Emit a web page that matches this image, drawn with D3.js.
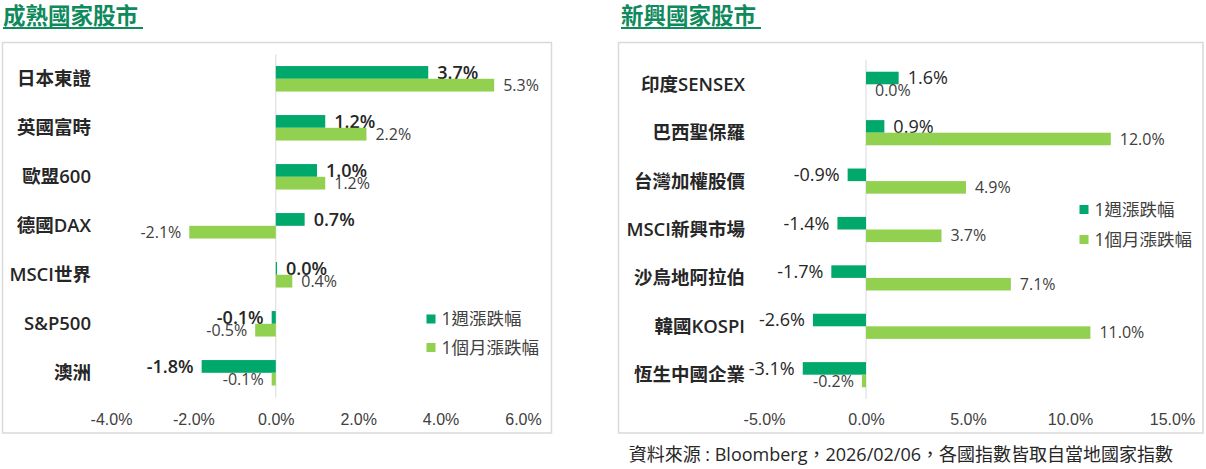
<!DOCTYPE html>
<html>
<head>
<meta charset="utf-8">
<script src="https://cdn.jsdelivr.net/npm/d3@7"></script>
<style>
  body { margin: 0; background: #fff; }
  svg { display: block; font-family: "Open Sans", "Noto Sans CJK TC", sans-serif; }
</style>
</head>
<body>
<svg id="root" width="1206" height="469"></svg>
<script>
// series names (legend)
const seriesNames = ["1週漲跌幅", "1個月漲跌幅"];

// 成熟國家股市
const matureNames = ["日本東證", "英國富時", "歐盟600", "德國DAX", "MSCI世界", "S&P500", "澳洲"];
const matureWeek = [3.7, 1.2, 1.0, 0.7, 0.03, -0.1, -1.8];
const matureMonth = [5.3, 2.2, 1.2, -2.1, 0.4, -0.5, -0.1];
const matureTicks = [-4, -2, 0, 2, 4, 6];

// 新興國家股市
const emergingNames = ["印度SENSEX", "巴西聖保羅", "台灣加權股價", "MSCI新興市場", "沙烏地阿拉伯", "韓國KOSPI", "恆生中國企業"];
const emergingWeek = [1.6, 0.9, -0.9, -1.4, -1.7, -2.6, -3.1];
const emergingMonth = [0.0, 12.0, 4.9, 3.7, 7.1, 11.0, -0.2];
const emergingTicks = [-5, 0, 5, 10, 15];

const footnote = "資料來源 : Bloomberg，2026/02/06，各國指數皆取自當地國家指數";

const colors = { week: "#00a86b", month: "#92d050" };
const titleColor = "#0f8a5c";
// plain hyphen for negatives, like the source
const fmt = (v) => v.toFixed(1) + "%";

const svg = d3.select("#root");

const drawPanel = (opt) => {
    const g = svg.append("g");

    // title + underline
    g.append("text")
        .attr("x", opt.titleX)
        .attr("y", 24)
        .attr("font-size", 22.5)
        .attr("font-weight", 700)
        .attr("fill", titleColor)
        .text(opt.title);
    g.append("line")
        .attr("x1", opt.titleX)
        .attr("x2", opt.titleX + 140)
        .attr("y1", 28)
        .attr("y2", 28)
        .attr("stroke", titleColor)
        .attr("stroke-width", 2);

    // frame
    g.append("rect")
        .attr("x", opt.frame[0])
        .attr("y", 42.5)
        .attr("width", opt.frame[1] - opt.frame[0])
        .attr("height", 390.5)
        .attr("fill", "none")
        .attr("stroke", "#d9d9d9")
        .attr("stroke-width", 1.5);

    const x = d3.scaleLinear().domain(opt.domain).range(opt.xRange);
    const y = d3
        .scaleBand()
        .domain(opt.names)
        .range(opt.yRange)
        .paddingInner(0.48)
        .paddingOuter(0.24);
    const inner = d3.scaleBand().domain(["week", "month"]).range([0, y.bandwidth()]);

    const rows = opt.names.map((name, i) => ({
        name,
        week: opt.week[i],
        month: opt.month[i],
    }));

    // zero line
    g.append("line")
        .attr("x1", x(0))
        .attr("x2", x(0))
        .attr("y1", opt.yRange[0])
        .attr("y2", opt.yRange[1])
        .attr("stroke", "#d9d9d9")
        .attr("stroke-width", 1);

    // bars
    ["week", "month"].forEach((key) => {
        g.append("g")
            .selectAll("rect")
            .data(rows)
            .join("rect")
            .attr("x", (d) => x(Math.min(0, d[key])))
            .attr("y", (d) => y(d.name) + inner(key))
            .attr("width", (d) => Math.abs(x(d[key]) - x(0)))
            .attr("height", inner.bandwidth())
            .attr("fill", colors[key]);

        g.append("g")
            .selectAll("text")
            .data(rows)
            .join("text")
            .attr("x", (d) => (d[key] < 0 ? x(d[key]) - 8 : x(d[key]) + 9))
            .attr("y", (d) => y(d.name) + inner(key) + inner.bandwidth() / 2)
            .attr("dy", "0.35em")
            .attr("text-anchor", (d) => (d[key] < 0 ? "end" : "start"))
            .attr("font-size", key === "week" ? 18 : 16)
            .attr("font-weight", key === "week" ? opt.weekWeight : 400)
            .attr("fill", key === "week" ? "#262626" : "#404040")
            .text((d) => fmt(d[key]));
    });

    // category labels
    g.append("g")
        .selectAll("text")
        .data(rows)
        .join("text")
        .attr("x", opt.labelX)
        .attr("y", (d) => y(d.name) + y.bandwidth() / 2)
        .attr("dy", "0.35em")
        .attr("text-anchor", "end")
        .attr("font-size", 18.5)
        .attr("font-weight", 600)
        .attr("fill", "#262626")
        .text((d) => d.name);

    // x axis, labels only
    const axis = d3
        .axisBottom(x)
        .tickValues(opt.ticks)
        .tickSize(0)
        .tickPadding(10)
        .tickFormat(fmt);
    g.append("g")
        .attr("transform", "translate(0, 404)")
        .call(axis)
        .call((a) => a.select(".domain").remove())
        .call((a) =>
            a
                .selectAll("text")
                .attr("font-size", 16)
                .attr("font-family", null)
                .attr("fill", "#404040")
        );

    // legend
    const legend = g
        .append("g")
        .selectAll("g")
        .data(seriesNames)
        .join("g")
        .attr("transform", (d, i) => `translate(${opt.legend[0]}, ${opt.legend[1] + i * opt.legend[2]})`);
    legend
        .append("rect")
        .attr("x", 0)
        .attr("y", -4.5)
        .attr("width", 9)
        .attr("height", 9)
        .attr("fill", (d, i) => (i === 0 ? colors.week : colors.month));
    legend
        .append("text")
        .attr("x", 15)
        .attr("dy", "0.35em")
        .attr("font-size", 17.5)
        .attr("fill", "#404040")
        .text((d) => d);
};

drawPanel({
    title: "成熟國家股市",
    titleX: 3,
    frame: [2.5, 551.5],
    names: matureNames,
    week: matureWeek,
    month: matureMonth,
    ticks: matureTicks,
    domain: [-4, 6],
    xRange: [111, 523],
    yRange: [54.3, 397.3],
    labelX: 91,
    weekWeight: 600,
    legend: [426.5, 319, 28.5],
});

drawPanel({
    title: "新興國家股市",
    titleX: 621,
    frame: [618.5, 1203],
    names: emergingNames,
    week: emergingWeek,
    month: emergingMonth,
    ticks: emergingTicks,
    domain: [-5, 15],
    xRange: [764, 1172],
    yRange: [60.1, 398.9],
    labelX: 745,
    weekWeight: 400,
    legend: [1079.5, 209.5, 30],
});

svg.append("text")
    .attr("x", 1173)
    .attr("y", 455)
    .attr("dy", "0.35em")
    .attr("text-anchor", "end")
    .attr("font-size", 18)
    .attr("fill", "#262626")
    .text(footnote);
</script>
</body>
</html>
